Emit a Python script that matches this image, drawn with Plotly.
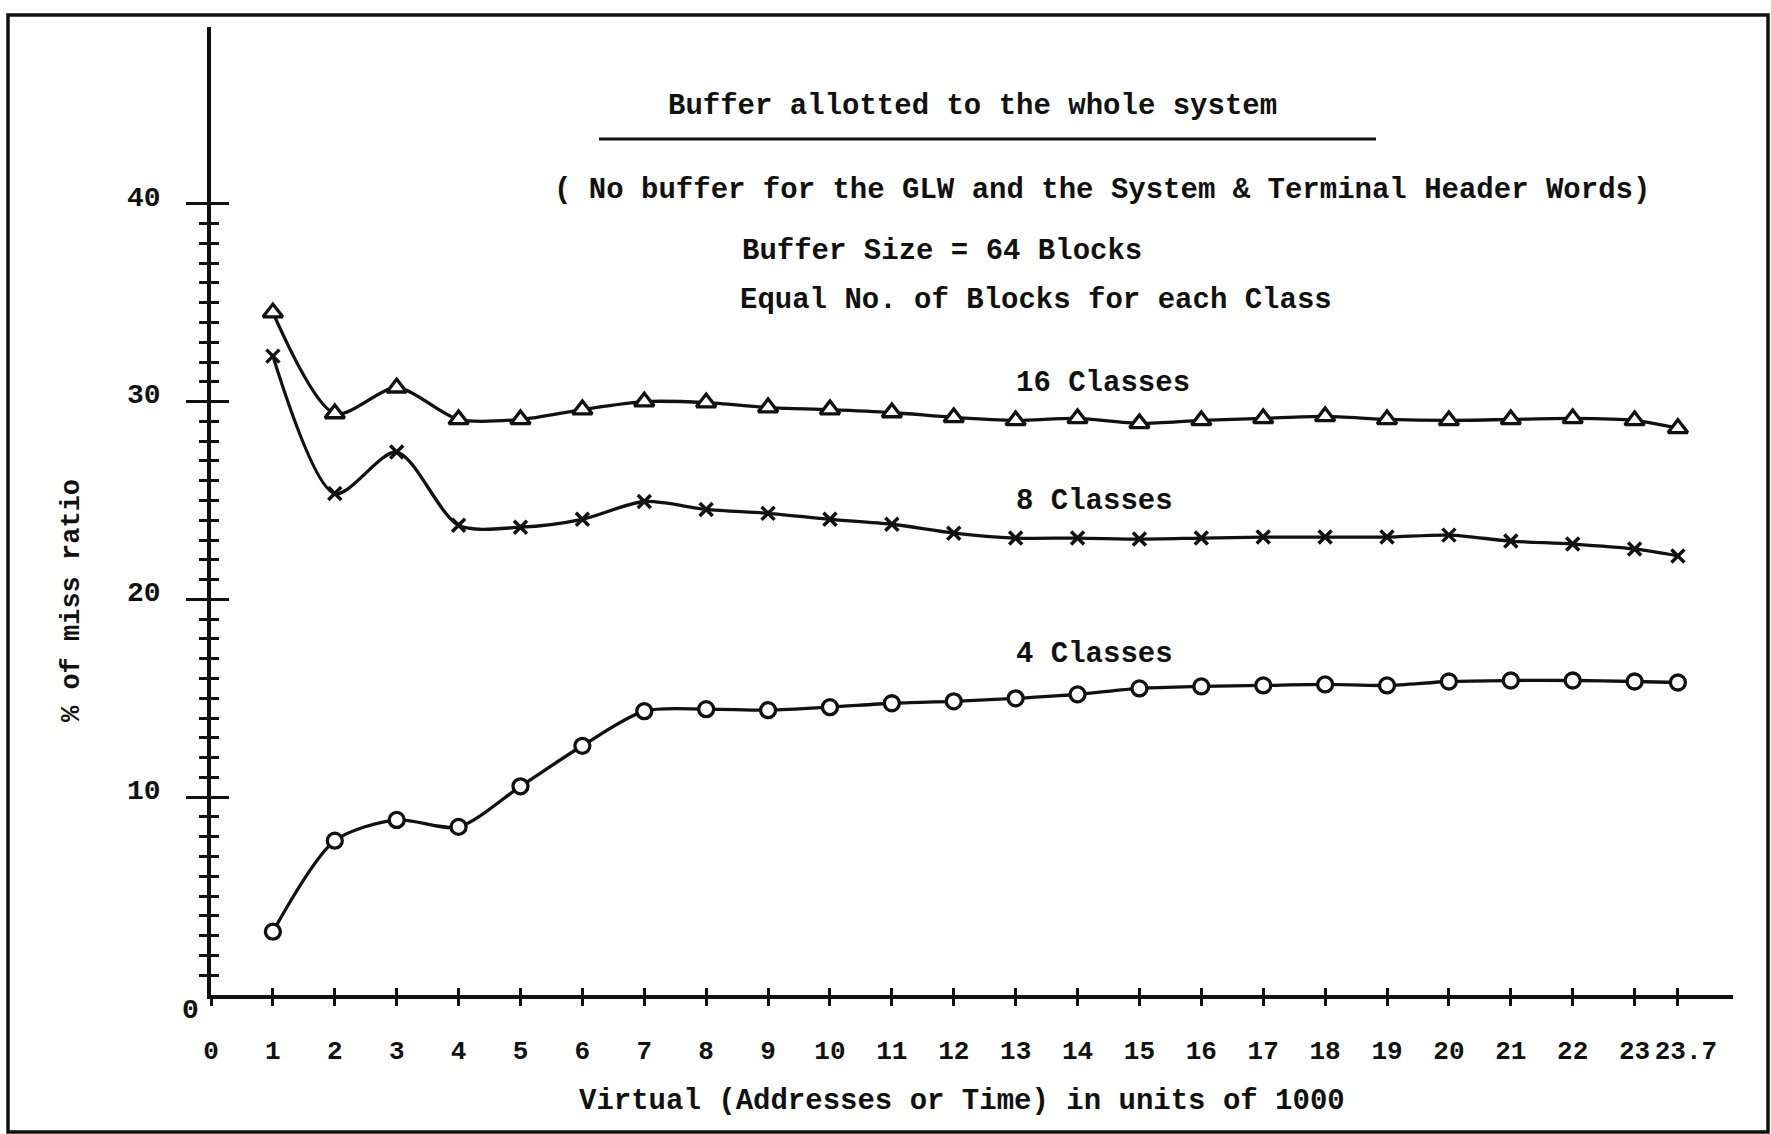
import plotly.graph_objects as go

# ---------------- data ----------------
x_vals = [1, 2, 3, 4, 5, 6, 7, 8, 9, 10, 11, 12, 13, 14, 15, 16, 17, 18, 19, 20, 21, 22, 23, 23.7]
classes16 = [34.5, 29.4, 30.7, 29.1, 29.1, 29.6, 30.0, 29.95, 29.7, 29.6, 29.45, 29.2,
             29.05, 29.15, 28.9, 29.05, 29.15, 29.25, 29.1, 29.05, 29.1, 29.15, 29.05, 28.65]
classes8 = [32.3, 25.35, 27.45, 23.75, 23.65, 24.05, 24.95, 24.55, 24.35, 24.05, 23.8, 23.35,
            23.1, 23.1, 23.05, 23.1, 23.15, 23.15, 23.15, 23.25, 22.95, 22.8, 22.55, 22.2]
classes4 = [3.2, 7.8, 8.85, 8.5, 10.55, 12.6, 14.35, 14.45, 14.4, 14.55, 14.75, 14.85,
            15.0, 15.2, 15.5, 15.6, 15.65, 15.7, 15.65, 15.85, 15.9, 15.9, 15.85, 15.8]

x_tickvals = [0, 1, 2, 3, 4, 5, 6, 7, 8, 9, 10, 11, 12, 13, 14, 15, 16, 17, 18, 19, 20, 21, 22, 23, 23.7]
x_ticktext = ["0", "1", "2", "3", "4", "5", "6", "7", "8", "9", "10", "11", "12", "13", "14",
              "15", "16", "17", "18", "19", "20", "21", "22", "23", "23.7"]
y_major = [10, 20, 30, 40]
y_major_text = ["10", "20", "30", "40"]
y_minor = [v for v in range(1, 40) if v % 10 != 0]

title_main = "Buffer allotted to the whole system"
subtitle = "( No buffer for the GLW and the System & Terminal Header Words)"
note1 = "Buffer Size = 64 Blocks"
note2 = "Equal No. of Blocks for each Class"
x_title = "Virtual (Addresses or Time) in units of 1000"
y_title = "% of miss ratio"
series_labels = ["16 Classes", "8 Classes", "4 Classes"]

# ---------------- layout geometry ----------------
W, H = 1771, 1134
L, R, T, B = 211, 38, 27, 139
XMAX = 24.59
YMAX = 48.94
FONT = "Liberation Mono"
INK = "#111111"


def px(xp):
    return (xp - L) / (W - L - R)


def py(yp):
    return (H - B - yp) / (H - T - B)


# main x axis shows every label except the last; the overlay axis shows only the last
# one, nudged right a little as in the original so it does not run into "23"
main_xtext = x_ticktext[:-1] + [""]
last_xtext = [""] * (len(x_ticktext) - 1) + [x_ticktext[-1]]

fig = go.Figure()

line_style = dict(color=INK, width=3.3, shape="spline", smoothing=0.8)

fig.add_trace(go.Scatter(
    x=x_vals, y=classes16, mode="lines+markers", line=line_style,
    marker=dict(symbol="triangle-up", size=17, color="white", line=dict(color=INK, width=3.3)),
    name=series_labels[0]))
fig.add_trace(go.Scatter(
    x=x_vals, y=classes8, mode="lines+markers", line=line_style,
    marker=dict(symbol="x-thin", size=13, color=INK, line=dict(color=INK, width=3.5)),
    name=series_labels[1]))
fig.add_trace(go.Scatter(
    x=x_vals, y=classes4, mode="lines+markers", line=line_style,
    marker=dict(symbol="circle", size=15, color="white", line=dict(color=INK, width=3.3)),
    name=series_labels[2]))

# empty trace so the overlay axes (used for the crossing ticks) get drawn
fig.add_trace(go.Scatter(x=[None], y=[None], xaxis="x2", yaxis="y2",
                         showlegend=False, hoverinfo="skip"))

tick_font = dict(family=FONT, size=26, color=INK, weight="bold")

fig.update_layout(
    width=W, height=H,
    margin=dict(l=L, r=R, t=T, b=B, autoexpand=False),
    paper_bgcolor="white", plot_bgcolor="white",
    showlegend=False,
    font=dict(family=FONT, size=28, color=INK),
    xaxis=dict(range=[0, XMAX], showgrid=False, zeroline=False, automargin=False,
               showline=True, linecolor=INK, linewidth=3.5,
               tickmode="array", tickvals=x_tickvals, ticktext=main_xtext, tickangle=0,
               ticks="outside", ticklen=7, tickwidth=3, tickcolor=INK,
               tickfont=tick_font, ticklabelstandoff=22),
    yaxis=dict(range=[0, YMAX], showgrid=False, zeroline=False, automargin=False,
               showline=True, linecolor=INK, linewidth=3.5,
               tickmode="array", tickvals=y_major, ticktext=y_major_text,
               ticks="outside", ticklen=21, tickwidth=3, tickcolor=INK,
               minor=dict(tickmode="array", tickvals=y_minor, ticks="outside",
                          ticklen=8, tickwidth=3, tickcolor=INK, showgrid=False),
               tickfont=dict(family=FONT, size=28, color=INK, weight="bold"),
               ticklabelstandoff=20, ticklabelshift=-8),
    xaxis2=dict(range=[0, XMAX], overlaying="x", anchor="y2", side="bottom",
                showgrid=False, zeroline=False, showline=False, automargin=False,
                tickmode="array", tickvals=x_tickvals, ticktext=last_xtext, tickangle=0,
                ticks="inside", ticklen=7, tickwidth=3, tickcolor=INK,
                showticklabels=True, tickfont=tick_font,
                ticklabelstandoff=37, ticklabelshift=8),
    yaxis2=dict(range=[0, YMAX], overlaying="y", anchor="x2", side="left",
                showgrid=False, zeroline=False, showline=False, automargin=False,
                tickmode="array", tickvals=y_major,
                ticks="inside", ticklen=18, tickwidth=3, tickcolor=INK,
                minor=dict(tickmode="array", tickvals=y_minor, ticks="inside",
                           ticklen=8, tickwidth=3, tickcolor=INK, showgrid=False),
                showticklabels=False),
)

text_font = dict(family=FONT, size=29, color=INK, weight="bold")

annotations = [
    dict(text=title_main, x=px(972), y=py(107), xanchor="center", yanchor="middle"),
    dict(text=subtitle, x=px(552), y=py(190), xanchor="left", yanchor="middle"),
    dict(text=note1, x=px(740), y=py(251), xanchor="left", yanchor="middle"),
    dict(text=note2, x=px(738), y=py(300), xanchor="left", yanchor="middle"),
    dict(text=series_labels[0], x=px(1014), y=py(384), xanchor="left", yanchor="middle"),
    dict(text=series_labels[1], x=px(1014), y=py(501), xanchor="left", yanchor="middle"),
    dict(text=series_labels[2], x=px(1014), y=py(654), xanchor="left", yanchor="middle"),
    dict(text=x_title, x=px(962), y=py(1101), xanchor="center", yanchor="middle"),
]
for a in annotations:
    a.update(xref="paper", yref="paper", showarrow=False, font=text_font)
    fig.add_annotation(**a)

fig.add_annotation(text=y_title, xref="paper", yref="paper", x=px(72), y=py(601),
                   xanchor="center", yanchor="middle", textangle=-90, showarrow=False,
                   font=dict(family=FONT, size=27, color=INK, weight="bold"))

# y-axis "0" label sits below-left of the origin
fig.add_annotation(text="0", xref="x", yref="y", x=0, y=0, xshift=-21, yshift=-15,
                   showarrow=False, font=dict(family=FONT, size=28, color=INK, weight="bold"))

# underline of the heading and the page frame
fig.add_shape(type="line", xref="paper", yref="paper",
              x0=px(599), x1=px(1376), y0=py(139), y1=py(139),
              line=dict(color=INK, width=3))
fig.add_shape(type="rect", xref="paper", yref="paper",
              x0=px(8), x1=px(1768), y0=py(1132), y1=py(15),
              line=dict(color=INK, width=3.5))

fig.write_html("out.html", config={"displayModeBar": False},
               post_script="document.body.style.margin='0';document.body.style.overflow='hidden';")
